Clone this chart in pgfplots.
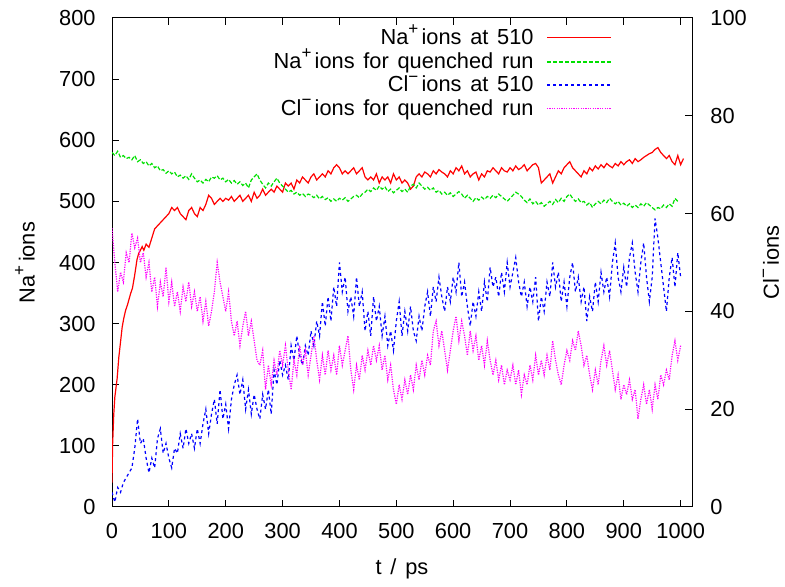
\documentclass[border=0pt]{standalone}
\usepackage{fontspec}
\setmainfont{Liberation Sans}
\usepackage{pgfplots}
\pgfplotsset{compat=1.18}
\definecolor{gpred}{rgb}{1,0,0}
\definecolor{gpgreen}{rgb}{0,0.88,0}
\definecolor{gpblue}{rgb}{0,0,1}
\definecolor{gpmag}{rgb}{1,0,1}
\newcommand\sups[1]{\raisebox{0.45em}{\fontsize{8.5}{8.5}\selectfont #1}\hspace{0.15em}}
\newcommand\myfont{\fontsize{10.9}{13}\selectfont\spaceskip=0.4em\relax}
\pgfplotsset{
  base/.style={
    at={(56pt,40pt)}, anchor=south west,
    scale only axis, width=290pt, height=244.5pt,
    xmin=0, xmax=1020,
    font=\myfont,
    /pgf/number format/assume math mode=true,
    /pgf/number format/set thousands separator={},
    tick align=inside, major tick length=3.5pt,
    axis line style={line width=0.5pt},
    every tick/.style={black, line width=0.5pt},
    tick label style={inner sep=0pt},
    clip=true,
  }
}
\begin{document}
\begin{tikzpicture}
\useasboundingbox (0,0) rectangle (392.5pt,293.5pt);
\begin{axis}[base,
  ymin=0, ymax=800,
  xtick={0,100,...,1000}, xtick pos=both,
  ytick={0,100,...,800}, ytick pos=left,
  xticklabel style={yshift=-8pt},
  yticklabel style={xshift=-8pt},
  xlabel={t / ps},
  ylabel={Na\sups{+}ions},
  every axis x label/.style={at={(axis description cs:0.5,-0.127)}, anchor=center},
  every axis y label/.style={at={(axis description cs:-0.15,0.5)}, rotate=90, anchor=center},
]
\addplot[gpred, line width=0.6pt] coordinates {
(0,40)(1,100)(3,150)(5,180)(7,195)(9,210)(12,245)(15,270)(18,295)(21,310)(24,322)(27,330)(30,340)(33,350)(36,358)(40,380)(44,405)(47,415)(50,420)(53,426)(56,420)(60,430)(65,425)(70,440)(75,455)(80,460)(85,465)(90,470)(95,475)(100,480)(105,490)(110,485)(115,490)(120,480)(125,475)(130,470)(135,485)(140,490)(145,480)(150,475)(155,490)(160,485)(165,495)(170,510)(175,505)(180,495)(185,500)(190,505)(195,500)(200,505)(205,502)(210,508)(215,500)(220,505)(225,510)(230,500)(235,505)(240,510)(245,500)(250,515)(255,505)(260,510)(265,520)(270,510)(275,515)(280,520)(285,515)(290,525)(295,520)(300,515)(305,530)(310,525)(315,530)(320,520)(325,535)(330,530)(335,540)(340,535)(345,530)(350,540)(355,545)(360,535)(365,540)(370,545)(375,540)(380,550)(385,545)(390,555)(395,560)(400,555)(405,545)(410,550)(415,545)(420,550)(425,555)(430,545)(435,550)(440,555)(445,540)(450,535)(455,540)(460,535)(465,545)(470,530)(475,540)(480,535)(485,540)(490,530)(495,545)(500,535)(505,540)(510,530)(515,535)(520,530)(525,520)(530,525)(535,540)(540,545)(545,540)(550,548)(555,545)(560,540)(565,550)(570,545)(575,552)(580,548)(585,545)(590,540)(595,550)(600,545)(605,555)(610,550)(615,558)(620,545)(625,550)(630,540)(635,545)(640,548)(645,535)(650,545)(655,540)(660,550)(665,548)(670,555)(675,550)(680,545)(685,555)(690,550)(695,548)(700,555)(705,550)(710,558)(715,552)(720,555)(725,560)(730,550)(735,555)(740,560)(745,562)(750,555)(755,530)(760,535)(765,540)(770,545)(775,530)(780,540)(785,550)(790,545)(795,555)(800,560)(805,565)(810,555)(815,550)(820,545)(825,540)(830,550)(835,545)(840,555)(845,550)(850,558)(855,553)(860,560)(865,555)(870,562)(875,558)(880,555)(885,562)(890,558)(895,565)(900,560)(905,565)(910,568)(915,562)(920,570)(925,565)(930,568)(935,572)(940,575)(945,578)(950,580)(955,585)(960,588)(965,580)(970,575)(975,570)(980,575)(985,565)(990,560)(995,575)(1000,560)(1005,570)
};
\addplot[gpgreen, line width=0.6pt, dash pattern=on 2pt off 1pt] coordinates {
(0,580)(5,575)(10,582)(15,572)(20,575)(25,570)(30,572)(35,568)(40,575)(45,565)(50,568)(55,562)(60,565)(65,558)(70,562)(75,555)(80,558)(85,550)(90,552)(95,546)(100,550)(105,545)(110,548)(115,540)(120,543)(125,538)(130,542)(135,536)(140,545)(145,538)(150,532)(155,535)(160,530)(165,536)(170,532)(175,540)(180,538)(185,542)(190,535)(195,538)(200,532)(205,536)(210,530)(215,534)(220,528)(225,532)(230,526)(235,530)(240,522)(245,535)(250,540)(255,545)(260,535)(265,528)(270,522)(275,530)(280,525)(285,532)(290,538)(295,530)(300,525)(305,520)(310,515)(315,518)(320,512)(325,515)(330,510)(335,513)(340,508)(345,512)(350,510)(355,506)(360,510)(365,504)(370,508)(375,503)(380,506)(385,500)(390,504)(395,500)(400,505)(405,502)(410,506)(415,500)(420,504)(425,508)(430,510)(435,506)(440,512)(445,515)(450,520)(455,516)(460,522)(465,518)(470,525)(475,520)(480,524)(485,516)(490,520)(495,514)(500,518)(505,522)(510,516)(515,520)(520,515)(525,525)(530,528)(535,522)(540,530)(545,525)(550,520)(555,523)(560,518)(565,522)(570,515)(575,518)(580,512)(585,515)(590,510)(595,514)(600,508)(605,512)(610,516)(615,512)(620,505)(625,510)(630,505)(635,500)(640,506)(645,502)(650,507)(655,503)(660,508)(665,505)(670,510)(675,506)(680,512)(685,508)(690,504)(695,500)(700,505)(705,510)(710,515)(715,512)(720,508)(725,502)(730,498)(735,504)(740,496)(745,500)(750,494)(755,498)(760,492)(765,496)(770,500)(775,495)(780,503)(785,498)(790,505)(795,500)(800,508)(805,512)(810,505)(815,500)(820,504)(825,498)(830,500)(835,494)(840,498)(845,490)(850,496)(855,500)(860,496)(865,502)(870,498)(875,505)(880,500)(885,496)(890,500)(895,494)(900,497)(905,492)(910,496)(915,490)(920,494)(925,490)(930,496)(935,492)(940,498)(945,494)(950,490)(955,486)(960,490)(965,488)(970,494)(975,490)(980,496)(985,492)(990,505)(995,500)
};
\end{axis}
\begin{axis}[base,
  ymin=0, ymax=100,
  axis x line=none,
  axis y line*=right,
  ytick={0,20,...,100},
  yticklabel style={xshift=9pt},
  ylabel={Cl\sups{−}ions},
  every axis y label/.style={at={(axis description cs:1.136,0.5)}, rotate=90, anchor=center},
]
\addplot[gpblue, line width=0.6pt, dash pattern=on 1.5pt off 1.5pt] coordinates {
(0,3)(5,1)(10,4)(15,3)(20,5)(25,6)(30,7)(35,8)(40,12)(45,18)(50,13)(55,14)(60,10)(65,7)(70,10)(75,8)(80,14)(85,16)(90,11)(95,13)(100,10)(105,8)(110,12)(115,11)(120,15)(125,12)(130,16)(135,13)(140,15)(145,12)(150,16)(155,13)(160,17)(165,20)(170,15)(175,19)(180,22)(185,17)(190,24)(195,18)(200,21)(205,16)(210,22)(215,25)(220,27)(225,23)(230,26)(235,20)(240,24)(245,19)(250,23)(255,20)(260,18)(265,23)(270,20)(275,24)(280,19)(285,28)(290,25)(295,30)(300,27)(305,29)(310,26)(315,33)(320,30)(325,35)(330,31)(335,29)(340,33)(345,31)(350,36)(355,33)(360,38)(365,35)(370,42)(375,37)(380,43)(385,38)(390,45)(395,41)(400,50)(405,44)(410,47)(415,40)(420,43)(425,39)(430,47)(435,41)(440,44)(445,36)(450,40)(455,35)(460,43)(465,38)(470,41)(475,35)(480,39)(485,33)(490,36)(495,32)(500,38)(505,42)(510,35)(515,40)(520,36)(525,41)(530,36)(535,34)(540,39)(545,36)(550,41)(555,44)(560,39)(565,45)(570,42)(575,47)(580,43)(585,40)(590,45)(595,42)(600,47)(605,44)(610,50)(615,43)(620,46)(625,41)(630,37)(635,42)(640,39)(645,44)(650,40)(655,46)(660,42)(665,49)(670,45)(675,47)(680,43)(685,48)(690,44)(695,50)(700,45)(705,48)(710,51)(715,46)(720,43)(725,46)(730,41)(735,45)(740,42)(745,47)(750,38)(755,43)(760,40)(765,46)(770,43)(775,50)(780,45)(785,48)(790,42)(795,46)(800,41)(805,47)(810,50)(815,44)(820,47)(825,42)(830,45)(835,38)(840,43)(845,40)(850,46)(855,42)(860,48)(865,44)(870,47)(875,43)(880,50)(885,54)(890,47)(895,44)(900,49)(905,45)(910,51)(915,54)(920,48)(925,44)(930,50)(935,54)(940,47)(945,42)(950,47)(955,59)(960,55)(965,50)(970,45)(975,40)(980,47)(985,51)(990,45)(995,52)(1000,47)
};
\addplot[gpmag, line width=0.6pt, dash pattern=on 0.6pt off 0.6pt] coordinates {
(0,57)(5,50)(10,44)(15,48)(20,46)(25,52)(30,50)(35,56)(40,53)(45,55)(50,50)(55,52)(60,47)(65,50)(70,44)(75,47)(80,41)(85,46)(90,43)(95,49)(100,42)(105,46)(110,41)(115,44)(120,40)(125,45)(130,42)(135,46)(140,41)(145,44)(150,40)(155,43)(160,38)(165,42)(170,37)(175,40)(180,44)(185,50)(190,46)(195,43)(200,40)(205,44)(210,38)(215,35)(220,38)(225,33)(230,37)(235,40)(240,35)(245,38)(250,34)(255,30)(260,29)(265,32)(270,24)(275,29)(280,25)(285,30)(290,27)(295,32)(300,29)(305,33)(310,28)(315,24)(320,30)(325,27)(330,33)(335,29)(340,32)(345,27)(350,31)(355,35)(360,30)(365,26)(370,31)(375,27)(380,32)(385,28)(390,31)(395,27)(400,33)(405,29)(410,32)(415,35)(420,28)(425,24)(430,29)(435,26)(440,31)(445,28)(450,32)(455,29)(460,33)(465,30)(470,33)(475,28)(480,31)(485,26)(490,29)(495,24)(500,21)(505,25)(510,22)(515,26)(520,23)(525,27)(530,24)(535,29)(540,26)(545,30)(550,27)(555,31)(560,29)(565,36)(570,38)(575,33)(580,36)(585,32)(590,28)(595,32)(600,36)(605,39)(610,34)(615,38)(620,35)(625,31)(630,36)(635,32)(640,35)(645,30)(650,33)(655,29)(660,34)(665,30)(670,27)(675,30)(680,26)(685,29)(690,25)(695,28)(700,26)(705,29)(710,25)(715,28)(720,23)(725,27)(730,25)(735,29)(740,26)(745,31)(750,27)(755,30)(760,27)(765,31)(770,28)(775,34)(780,30)(785,27)(790,25)(795,29)(800,32)(805,30)(810,34)(815,32)(820,36)(825,33)(830,29)(835,31)(840,27)(845,24)(850,28)(855,25)(860,30)(865,33)(870,29)(875,32)(880,28)(885,24)(890,27)(895,22)(900,25)(905,23)(910,26)(915,22)(920,24)(925,18)(930,22)(935,25)(940,21)(945,24)(950,20)(955,25)(960,22)(965,27)(970,25)(975,28)(980,26)(985,31)(990,34)(995,30)(1000,33)
};
% legend samples
\addplot[gpred, line width=0.8pt] coordinates {(765,95.97)(877,95.97)};
\addplot[gpgreen, line width=0.8pt, dash pattern=on 2pt off 1pt] coordinates {(765,91.06)(877,91.06)};
\addplot[gpblue, line width=0.8pt, dash pattern=on 1.5pt off 1.5pt] coordinates {(765,86.30)(877,86.30)};
\addplot[gpmag, line width=0.8pt, dash pattern=on 0.6pt off 0.6pt] coordinates {(765,81.53)(877,81.53)};
\node[anchor=base east, inner sep=0pt, font=\myfont] at (axis description cs:0.7276,0.9454) {Na\sups{+}ions at 510};
\node[anchor=base east, inner sep=0pt, font=\myfont] at (axis description cs:0.7276,0.8963) {Na\sups{+}ions for quenched run};
\node[anchor=base east, inner sep=0pt, font=\myfont] at (axis description cs:0.7276,0.8487) {Cl\sups{−}ions at 510};
\node[anchor=base east, inner sep=0pt, font=\myfont] at (axis description cs:0.7276,0.8010) {Cl\sups{−}ions for quenched run};
\end{axis}
\end{tikzpicture}
\end{document}
